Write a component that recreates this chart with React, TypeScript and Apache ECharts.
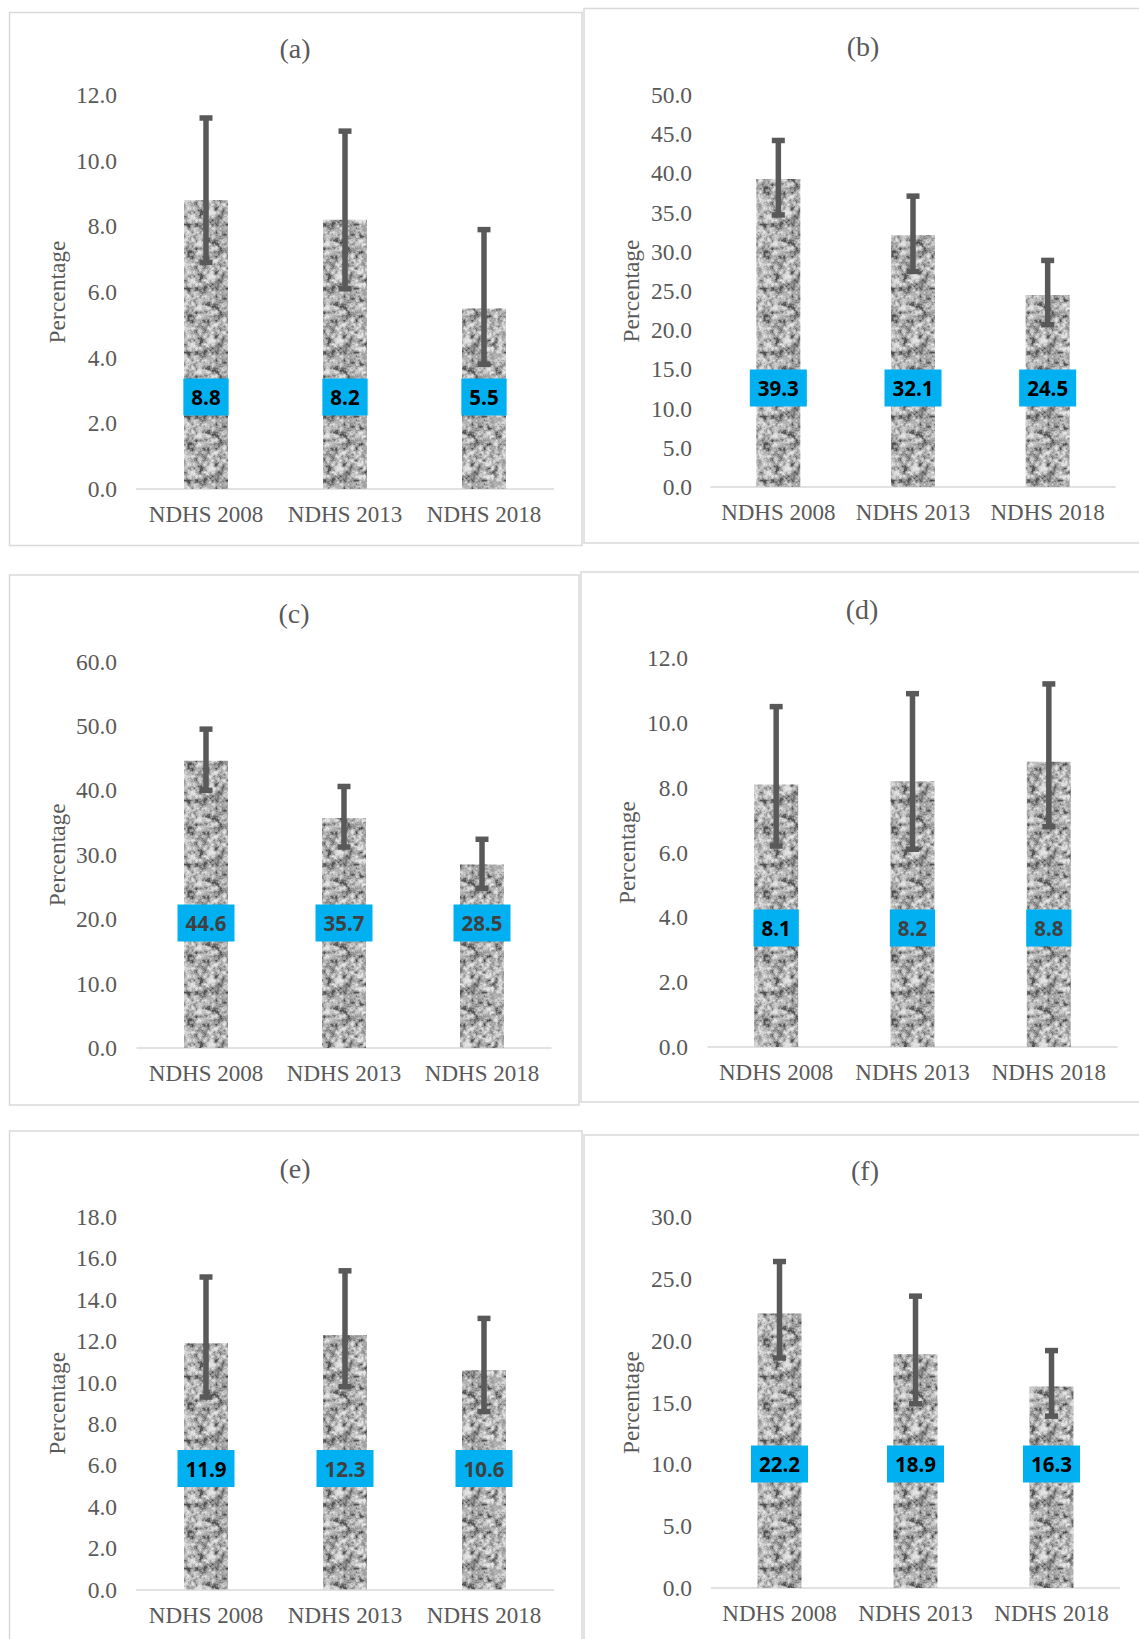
import React, { useEffect, useRef } from "react";
import * as echarts from "echarts";

// ---------------- DATA ----------------
const categories = ["NDHS 2008", "NDHS 2013", "NDHS 2018"];
const panelTitles = ["(a)", "(b)", "(c)", "(d)", "(e)", "(f)"];

const valuesA = [8.8, 8.2, 5.5];
const lowA = [6.9, 6.1, 3.8];
const highA = [11.3, 10.9, 7.9];

const valuesB = [39.3, 32.1, 24.5];
const lowB = [34.7, 27.5, 20.7];
const highB = [44.2, 37.1, 28.9];

const valuesC = [44.6, 35.7, 28.5];
const lowC = [40.0, 31.2, 24.8];
const highC = [49.5, 40.6, 32.4];

const valuesD = [8.1, 8.2, 8.8];
const lowD = [6.2, 6.1, 6.8];
const highD = [10.5, 10.9, 11.2];

const valuesE = [11.9, 12.3, 10.6];
const lowE = [9.3, 9.8, 8.6];
const highE = [15.1, 15.4, 13.1];

const valuesF = [22.2, 18.9, 16.3];
const lowF = [18.6, 14.9, 13.9];
const highF = [26.4, 23.6, 19.2];

const yMaxes = [12, 50, 60, 12, 18, 30];
const yIntervals = [2, 5, 10, 2, 2, 5];

const allValues = [valuesA, valuesB, valuesC, valuesD, valuesE, valuesF];
const allLows = [lowA, lowB, lowC, lowD, lowE, lowF];
const allHighs = [highA, highB, highC, highD, highE, highF];

// ---------------- LAYOUT / STYLE ----------------
const BLACK = "#000000";
const DGRAY = "#404040";
const panels = [
  { grid: { left: 136.5, top: 95, width: 417, height: 394 }, title: [295, 48], border: [9.5, 12.5, 572.5, 533], lift: 92, nameX: 57, labelRight: 117, labelColors: [BLACK, BLACK, BLACK] },
  { grid: { left: 711, top: 95, width: 404, height: 392 }, title: [863, 46], border: [584, 8.5, 560, 534.5], lift: 99, nameX: 631, labelRight: 692, labelColors: [BLACK, BLACK, BLACK] },
  { grid: { left: 137, top: 661.5, width: 414, height: 386.5 }, title: [294, 613], border: [9.5, 575, 569.5, 530], lift: 125, nameX: 57, labelRight: 117, labelColors: [DGRAY, DGRAY, DGRAY] },
  { grid: { left: 708, top: 658, width: 409, height: 389 }, title: [862, 609], border: [581, 572, 565, 530], lift: 119, nameX: 627, labelRight: 688, labelColors: [BLACK, DGRAY, DGRAY] },
  { grid: { left: 136.5, top: 1217, width: 417, height: 372.5 }, title: [295, 1168], border: [9.5, 1131, 572.5, 520], lift: 121, nameX: 57, labelRight: 117, labelColors: [BLACK, DGRAY, DGRAY] },
  { grid: { left: 711.5, top: 1217, width: 408, height: 371 }, title: [865, 1170], border: [584, 1135, 560, 520], lift: 124, nameX: 631, labelRight: 692, labelColors: [BLACK, BLACK, BLACK] },
];

const SERIF = "'Liberation Serif', 'Times New Roman', serif";
const TEXT_GRAY = "#595959";
const Y_FONT = 23.5;
const X_FONT = 23;

function makeTexture(): HTMLCanvasElement {
  const size = 64;
  const c = document.createElement("canvas");
  c.width = size;
  c.height = size;
  const ctx = c.getContext("2d")!;
  const img = ctx.createImageData(size, size);
  const hash = (x: number, y: number, s: number) => {
    let h = Math.imul(x, 374761393) + Math.imul(y, 668265263) + Math.imul(s, 1442695041);
    h = Math.imul(h ^ (h >>> 13), 1274126177);
    h = h ^ (h >>> 16);
    return (h >>> 0) / 4294967295;
  };
  const noise = (px: number, py: number, cell: number, seed: number) => {
    const n = size / cell;
    const gx = px / cell;
    const gy = py / cell;
    const x0 = Math.floor(gx);
    const y0 = Math.floor(gy);
    const fx = gx - x0;
    const fy = gy - y0;
    const sx = fx * fx * (3 - 2 * fx);
    const sy = fy * fy * (3 - 2 * fy);
    const w = (v: number) => ((v % n) + n) % n;
    const a = hash(w(x0), w(y0), seed);
    const b = hash(w(x0 + 1), w(y0), seed);
    const cc = hash(w(x0), w(y0 + 1), seed);
    const d = hash(w(x0 + 1), w(y0 + 1), seed);
    return a + (b - a) * sx + (cc - a) * sy + (a - b - cc + d) * sx * sy;
  };
  for (let y = 0; y < size; y++) {
    for (let x = 0; x < size; x++) {
      const n = 0.5 * noise(x, y, 4, 1) + 0.35 * noise(x, y, 2, 2) + 0.15 * noise(x, y, 1, 3);
      let t = (n - 0.22) / 0.56;
      t = Math.max(0, Math.min(1, t));
      t = Math.pow(t, 0.65);
      const g = Math.round(80 + 148 * t);
      const i = (y * size + x) * 4;
      img.data[i] = g;
      img.data[i + 1] = g;
      img.data[i + 2] = g;
      img.data[i + 3] = 255;
    }
  }
  ctx.putImageData(img, 0, 0);
  return c;
}

export default function App() {
  const ref = useRef<HTMLDivElement>(null);

  useEffect(() => {
    if (!ref.current) return;
    const chart = echarts.init(ref.current, undefined, { renderer: "svg" });
    const tex = makeTexture();
    const pattern: any = { image: tex, repeat: "repeat", imageWidth: 64, imageHeight: 64 };

    const grids: any[] = [];
    const xAxes: any[] = [];
    const yAxes: any[] = [];
    const titles: any[] = [];
    const series: any[] = [];
    const graphics: any[] = [];

    panels.forEach((p, k) => {
      grids.push({ ...p.grid, containLabel: false });
      titles.push({
        text: panelTitles[k],
        left: p.title[0],
        top: p.title[1] - 14,
        padding: 0,
        textAlign: "center",
        textStyle: { fontFamily: SERIF, fontSize: 28, lineHeight: 28, fontWeight: "normal", color: TEXT_GRAY },
      });
      xAxes.push({
        type: "category",
        gridIndex: k,
        data: categories,
        axisTick: { show: false },
        axisLine: { show: true, lineStyle: { color: "#d9d9d9", width: 1.5 } },
        axisLabel: { interval: 0, fontFamily: SERIF, fontSize: X_FONT, color: TEXT_GRAY, margin: 14 },
      });
      yAxes.push({
        type: "value",
        gridIndex: k,
        min: 0,
        max: yMaxes[k],
        interval: yIntervals[k],
        splitLine: { show: false },
        axisLine: { show: false },
        axisTick: { show: false },
        axisLabel: {
          fontFamily: SERIF,
          fontSize: Y_FONT,
          color: TEXT_GRAY,
          margin: p.grid.left - p.labelRight,
          formatter: (v: number) => v.toFixed(1),
        },
        name: "Percentage",
        nameLocation: "middle",
        nameRotate: 90,
        nameGap: p.grid.left - p.nameX - 12,
        nameTextStyle: { fontFamily: SERIF, fontSize: Y_FONT, color: TEXT_GRAY },
      });
      series.push({
        type: "bar",
        xAxisIndex: k,
        yAxisIndex: k,
        barWidth: 44,
        itemStyle: { color: pattern },
        data: allValues[k].map((v, i) => ({ value: v, label: { color: p.labelColors[i] } })),
        label: {
          show: true,
          position: "insideBottom",
          distance: p.lift - 18.5,
          formatter: (d: any) => Number(d.value).toFixed(1),
          backgroundColor: "#00B0F0",
          padding: [8, 8, 8, 8],
          fontFamily: "'Open Sans', 'Noto Sans', sans-serif",
          fontWeight: "bold",
          fontSize: 20.5,
          lineHeight: 21,
        },
        z: 2,
      });
      series.push({
        type: "custom",
        xAxisIndex: k,
        yAxisIndex: k,
        data: allValues[k].map((_, i) => [i, allLows[k][i], allHighs[k][i]]),
        encode: { x: 0, y: [1, 2] },
        z: 3,
        renderItem: (params: any, api: any) => {
          const lo = api.coord([api.value(0), api.value(1)]);
          const hi = api.coord([api.value(0), api.value(2)]);
          const x = lo[0];
          const st = { stroke: "#595959", lineWidth: 5.5 };
          return {
            type: "group",
            children: [
              { type: "line", shape: { x1: x, y1: lo[1], x2: x, y2: hi[1] }, style: st },
              { type: "line", shape: { x1: x - 6.5, y1: lo[1], x2: x + 6.5, y2: lo[1] }, style: st },
              { type: "line", shape: { x1: x - 6.5, y1: hi[1], x2: x + 6.5, y2: hi[1] }, style: st },
            ],
          };
        },
      });
      graphics.push({
        type: "rect",
        shape: { x: p.border[0], y: p.border[1], width: p.border[2], height: p.border[3] },
        style: { fill: "none", stroke: "#d9d9d9", lineWidth: 1.5 },
        silent: true,
        z: 0,
      });
    });

    chart.setOption({
      animation: false,
      backgroundColor: "#ffffff",
      title: titles,
      grid: grids,
      xAxis: xAxes,
      yAxis: yAxes,
      series,
      graphic: graphics,
    });

    return () => chart.dispose();
  }, []);

  return (
    <div
      ref={ref}
      style={{ position: "absolute", left: 0, top: 0, width: 1139, height: 1639 }}
    />
  );
}
